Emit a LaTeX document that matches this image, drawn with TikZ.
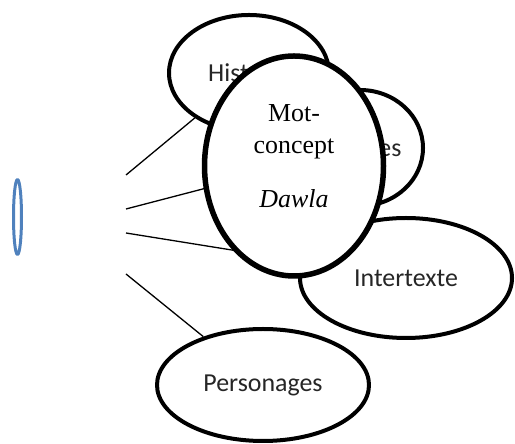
\documentclass[tikz,border=0pt]{standalone}
\usepackage{fontspec}
\setmainfont{Liberation Serif}
\newfontfamily\labelfont{Carlito}
\usepackage{tikz}
\usetikzlibrary{shapes.geometric}
\pgfdeclarelayer{background}
\pgfsetlayers{background,main}
\definecolor{ringblue}{RGB}{79,129,189}
\definecolor{labelgray}{RGB}{38,38,38}

\tikzset{
  outer/.style={ellipse,draw=black,fill=white,line width=4bp,inner sep=0pt,
    font=\labelfont\fontsize{26}{31}\selectfont,text=labelgray},
  core/.style={ellipse,draw=black,fill=white,line width=5.5bp,inner sep=0pt},
  corelabel/.style={align=center,inner sep=0pt,font=\rmfamily\fontsize{26}{32}\selectfont},
  link/.style={line width=1.3bp}
}

\begin{document}
\begin{tikzpicture}[line cap=round,line join=round,x=1bp,y=1bp]
\useasboundingbox (0,0) rectangle (515,444);
% small blue ring on the left
\node[ellipse,draw=ringblue,line width=3bp,minimum width=8bp,minimum height=75bp,inner sep=0pt] (ring) at (17.5,227) {};
% loose ends of the links
\coordinate (s1) at (126,269);
\coordinate (s2) at (126,235);
\coordinate (s3) at (126,211);
\coordinate (s4) at (126,170);
% outer ellipses
\node[outer,minimum width=160bp,minimum height=116bp] (hist) at (249,371) {Histoire};
\node[outer,minimum width=126bp,minimum height=116bp] (them) at (360,296) {Thèmes};
\node[outer,minimum width=212bp,minimum height=120bp] (inter) at (406,166) {Intertexte};
\node[outer,minimum width=212bp,minimum height=112bp] (perso) at (263,59) {Personages};
% links go under everything
\begin{pgfonlayer}{background}
\draw[link] (s1) -- (hist);
\draw[link] (s2) -- (them);
\draw[link] (s3) -- (inter);
\draw[link] (s4) -- (perso);
\end{pgfonlayer}
% central ellipse
\node[core,minimum width=179bp,minimum height=220bp] (mot) at (294,278) {};
\node[corelabel] (motlabel) at ([yshift=9.5bp]mot.center) {Mot-\\concept\\[22bp]\textit{Dawla}};
\end{tikzpicture}
\end{document}
